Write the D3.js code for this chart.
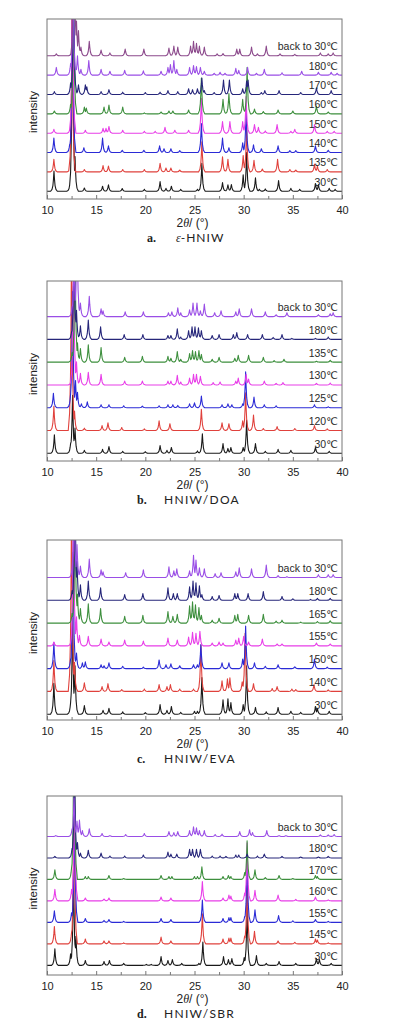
<!DOCTYPE html>
<html>
<head>
<meta charset="utf-8">
<script src="https://cdn.jsdelivr.net/npm/d3@7"></script>
<style>
	body { margin: 0; background: #fff; }
	svg { display: block; }
	text { font-family: "Liberation Sans", Arial, sans-serif; }
</style>
</head>
<body>
<svg id="chart" width="397" height="1035"></svg>
<script>
// ---- data: peaks, [2theta, height in a.u.] ----
const xTicks = [10, 15, 20, 25, 30, 35, 40];
const xMinorTicks = [12.5, 17.5, 22.5, 27.5, 32.5, 37.5];

const captionsLetter = ['a.', 'b.', 'c.', 'd.'];
const captionsName = ['ε-HNIW', 'HNIW/DOA', 'HNIW/EVA', 'HNIW/SBR'];

const labelsA = ['30℃', '135℃', '140℃', '150℃', '160℃', '170℃', '180℃', 'back to 30℃'];
const labelsB = ['30℃', '120℃', '125℃', '130℃', '135℃', '180℃', 'back to 30℃'];
const labelsC = ['30℃', '140℃', '150℃', '155℃', '165℃', '180℃', 'back to 30℃'];
const labelsD = ['30℃', '145℃', '155℃', '160℃', '170℃', '180℃', 'back to 30℃'];

const peaksA = [
	[[10.71, 1.05], [12.35, 0.5], [12.6, 11], [12.85, 1.8], [13.8, 0.17], [15.65, 0.26], [16.25, 0.33], [17.65, 0.14], [19.9, 0.1], [21.5, 0.5], [22.1, 0.15], [22.65, 0.26], [23.6, 0.1], [25.3, 0.1], [25.75, 1.45], [27.85, 0.45], [28.4, 0.33], [28.75, 0.35], [29.95, 0.85], [30.3, 2.0], [31.2, 0.7], [31.6, 0.1], [32.2, 0.12], [33.55, 0.55], [34.8, 0.15], [35.7, 0.1], [37.3, 0.4], [37.6, 0.35], [38.7, 0.15], [39.3, 0.1]],
	[[10.7, 0.65], [12.4, 0.5], [12.55, 9], [13.8, 0.12], [15.7, 0.33], [16.25, 0.3], [17.7, 0.12], [19.9, 0.12], [21.5, 0.45], [22.1, 0.2], [22.6, 0.2], [23.5, 0.1], [25.75, 1.55], [27.85, 0.78], [28.4, 0.65], [29.95, 0.85], [30.3, 2.4], [31.05, 0.6], [31.9, 0.15], [33.45, 0.65], [34.7, 0.12], [35.3, 0.1], [37.2, 0.4], [37.5, 0.3], [38.5, 0.12]],
	[[10.7, 0.75], [12.3, 0.4], [12.6, 8], [13.75, 0.25], [15.65, 0.75], [16.25, 0.35], [17.65, 0.12], [19.85, 0.12], [21.45, 0.35], [21.9, 0.2], [22.6, 0.2], [23.5, 0.1], [25.7, 1.5], [27.85, 0.75], [28.5, 0.25], [29.9, 0.5], [30.25, 2.2], [31.0, 0.4], [31.8, 0.2], [33.5, 0.35], [34.7, 0.1], [35.3, 0.1], [37.3, 0.35], [38.6, 0.12]],
	[[10.7, 0.2], [12.4, 0.5], [12.6, 8], [13.9, 0.15], [15.7, 0.25], [16.0, 0.25], [16.3, 0.35], [17.7, 0.15], [19.9, 0.1], [21.0, 0.1], [22.0, 0.3], [23.0, 0.15], [24.4, 0.15], [25.7, 1.8], [27.85, 0.6], [28.6, 0.6], [29.9, 0.6], [30.25, 1.9], [31.1, 0.45], [31.5, 0.3], [32.2, 0.12], [33.4, 0.45], [34.8, 0.1], [35.2, 0.2], [37.2, 0.45], [38.5, 0.1], [39.2, 0.1]],
	[[10.75, 0.15], [12.4, 0.5], [12.7, 6], [13.8, 0.35], [14.0, 0.3], [15.8, 0.35], [16.3, 0.45], [17.7, 0.35], [19.9, 0.05], [21.6, 0.1], [22.4, 0.15], [22.8, 0.15], [24.4, 0.2], [25.7, 1.85], [27.9, 0.75], [28.5, 1.05], [29.9, 0.75], [30.35, 2.4], [31.1, 0.25], [32.0, 0.12], [33.5, 0.2], [35.0, 0.15], [37.4, 0.4], [38.6, 0.1]],
	[[10.75, 0.15], [12.4, 0.6], [12.7, 6], [13.2, 0.5], [13.9, 0.5], [14.05, 0.4], [15.5, 0.15], [16.3, 0.25], [17.7, 0.12], [20.0, 0.1], [21.5, 0.12], [22.3, 0.2], [23.3, 0.15], [24.4, 0.3], [24.8, 0.25], [25.3, 0.3], [25.75, 0.85], [26.0, 0.2], [27.0, 0.1], [27.95, 0.75], [28.55, 0.75], [29.9, 0.3], [30.3, 0.7], [30.45, 0.75], [31.8, 0.1], [32.15, 0.2], [33.6, 0.2], [35.8, 0.1], [37.4, 0.35], [38.9, 0.2]],
	[[10.95, 0.4], [12.4, 0.6], [12.65, 5], [13.1, 1.0], [13.45, 0.3], [14.25, 0.75], [15.5, 0.3], [16.4, 0.2], [17.9, 0.25], [19.8, 0.22], [21.6, 0.2], [22.3, 0.4], [22.55, 0.55], [22.9, 0.75], [23.2, 0.3], [24.5, 0.4], [24.9, 0.5], [25.2, 0.45], [25.6, 0.4], [26.0, 0.2], [27.0, 0.1], [27.6, 0.15], [28.1, 0.1], [29.2, 0.35], [29.5, 0.25], [30.4, 0.4], [31.3, 0.1], [32.1, 0.3], [33.9, 0.12], [35.9, 0.2], [37.6, 0.15], [38.9, 0.15], [39.5, 0.1]],
	[[10.95, 0.1], [12.55, 0.4], [12.75, 8], [13.0, 1.8], [13.2, 1.3], [13.45, 0.45], [14.3, 0.75], [15.5, 0.3], [16.4, 0.15], [17.95, 0.35], [19.85, 0.35], [22.4, 0.4], [22.9, 0.5], [23.3, 0.45], [24.6, 0.5], [24.9, 0.75], [25.2, 0.65], [25.5, 0.5], [26.0, 0.45], [27.3, 0.1], [27.9, 0.12], [29.3, 0.35], [29.6, 0.35], [30.8, 0.45], [31.4, 0.1], [32.3, 0.5], [33.7, 0.1], [35.2, 0.08], [37.8, 0.15], [38.6, 0.1], [39.1, 0.15]]
];

const peaksB = [
	[[10.75, 0.95], [12.4, 0.5], [12.6, 3], [12.85, 1.3], [13.8, 0.15], [15.65, 0.2], [16.3, 0.35], [17.7, 0.1], [20.0, 0.08], [21.5, 0.4], [22.2, 0.15], [22.65, 0.3], [25.3, 0.12], [25.8, 1.0], [27.9, 0.5], [28.4, 0.25], [28.7, 0.3], [29.95, 0.3], [30.3, 1.7], [31.2, 0.5], [32.2, 0.1], [33.5, 0.2], [34.8, 0.15], [37.3, 0.3], [38.7, 0.1]],
	[[10.7, 1.25], [12.5, 10], [12.8, 1.0], [13.8, 0.12], [15.6, 0.25], [16.2, 0.4], [17.6, 0.15], [19.9, 0.08], [21.4, 0.5], [22.5, 0.35], [25.7, 1.1], [27.8, 0.4], [28.5, 0.35], [29.9, 0.5], [30.2, 1.95], [31.0, 0.8], [32.0, 0.1], [33.4, 0.2], [35.2, 0.1], [37.2, 0.25], [38.5, 0.08]],
	[[10.65, 0.75], [12.4, 0.7], [12.6, 6], [12.9, 1.4], [13.1, 0.8], [13.5, 0.2], [14.1, 0.3], [15.5, 0.15], [16.3, 0.15], [17.8, 0.1], [19.7, 0.08], [21.4, 0.1], [22.3, 0.15], [22.8, 0.15], [23.3, 0.12], [24.5, 0.2], [25.0, 0.25], [25.7, 0.6], [27.8, 0.15], [28.4, 0.2], [28.8, 0.15], [29.9, 0.2], [30.2, 1.85], [31.05, 0.55], [32.1, 0.15], [33.3, 0.1], [37.2, 0.15], [38.6, 0.05]],
	[[12.5, 0.4], [12.7, 7], [13.0, 1.2], [13.4, 0.6], [14.2, 0.65], [15.5, 0.55], [17.9, 0.2], [19.7, 0.2], [22.3, 0.2], [22.6, 0.2], [23.25, 0.5], [23.6, 0.15], [24.5, 0.35], [24.9, 0.55], [25.2, 0.55], [25.6, 0.45], [26.9, 0.12], [27.6, 0.15], [29.2, 0.2], [29.45, 0.35], [30.25, 0.55], [30.5, 0.3], [32.1, 0.2], [33.3, 0.08], [34.0, 0.12], [37.4, 0.08], [38.8, 0.1]],
	[[12.55, 0.5], [12.85, 6], [13.1, 1.0], [13.4, 0.7], [14.2, 0.9], [15.5, 0.75], [17.9, 0.25], [19.7, 0.3], [22.3, 0.3], [22.6, 0.2], [23.25, 0.55], [23.6, 0.15], [24.5, 0.45], [24.8, 0.6], [25.1, 0.55], [25.45, 0.6], [25.7, 0.4], [26.8, 0.15], [27.5, 0.25], [29.1, 0.2], [29.45, 0.35], [30.5, 0.35], [32.0, 0.25], [33.1, 0.08], [34.1, 0.15], [37.4, 0.05], [38.8, 0.1]],
	[[12.5, 0.4], [12.75, 5], [13.0, 1.5], [13.4, 0.7], [14.2, 1.0], [15.45, 0.65], [17.85, 0.25], [19.75, 0.25], [22.3, 0.2], [22.6, 0.2], [23.25, 0.55], [23.6, 0.12], [24.4, 0.45], [24.75, 0.65], [25.05, 0.65], [25.4, 0.6], [25.7, 0.45], [26.8, 0.2], [27.5, 0.25], [28.95, 0.25], [29.3, 0.35], [30.4, 0.25], [31.9, 0.25], [33.0, 0.1], [33.9, 0.25], [34.9, 0.05], [37.3, 0.05], [38.6, 0.12]],
	[[12.55, 0.5], [12.75, 3], [13.05, 5], [13.4, 0.7], [14.3, 1.05], [15.5, 0.4], [15.7, 0.3], [17.95, 0.25], [19.8, 0.25], [22.35, 0.2], [22.7, 0.25], [23.3, 0.45], [23.6, 0.2], [24.5, 0.35], [24.85, 0.7], [25.25, 0.7], [25.6, 0.3], [26.0, 0.65], [27.05, 0.2], [27.7, 0.3], [29.2, 0.25], [29.55, 0.4], [30.8, 0.4], [32.2, 0.25], [33.3, 0.1], [34.4, 0.2], [37.6, 0.1], [38.8, 0.15], [39.1, 0.2]]
];

const peaksC = [
	[[10.7, 1.6], [12.4, 0.6], [12.6, 5], [12.85, 2.5], [13.8, 0.45], [15.7, 0.2], [16.3, 0.3], [17.7, 0.12], [20.0, 0.08], [21.5, 0.5], [22.2, 0.2], [22.65, 0.4], [23.6, 0.1], [25.0, 0.15], [25.3, 0.15], [25.75, 1.9], [27.9, 0.75], [28.4, 0.8], [28.7, 0.6], [29.95, 0.5], [30.3, 2.5], [31.2, 0.35], [32.3, 0.12], [33.5, 0.35], [34.8, 0.15], [35.8, 0.1], [37.3, 0.4], [37.5, 0.3], [38.7, 0.15]],
	[[10.7, 1.6], [12.5, 10], [12.8, 1.5], [13.8, 0.45], [15.6, 0.25], [16.2, 0.4], [17.6, 0.1], [19.9, 0.12], [21.4, 0.35], [22.2, 0.25], [22.55, 0.35], [23.5, 0.12], [24.9, 0.12], [25.65, 2.4], [27.8, 0.55], [28.35, 0.65], [28.6, 0.7], [29.85, 0.5], [30.15, 3], [31.0, 0.4], [32.9, 0.15], [33.4, 0.25], [34.9, 0.12], [35.3, 0.1], [37.15, 0.35], [38.6, 0.08]],
	[[10.7, 1.35], [12.4, 0.5], [12.65, 6], [13.0, 0.8], [13.6, 0.3], [13.9, 0.35], [15.5, 0.2], [15.8, 0.15], [16.3, 0.3], [17.7, 0.12], [19.8, 0.08], [21.4, 0.45], [22.1, 0.2], [22.6, 0.25], [23.5, 0.15], [24.9, 0.2], [25.3, 0.2], [25.65, 1.25], [27.8, 0.3], [28.5, 0.3], [29.9, 0.5], [30.2, 2.2], [31.1, 0.3], [32.2, 0.12], [33.5, 0.2], [35.2, 0.1], [37.2, 0.5], [38.5, 0.08]],
	[[10.7, 0.2], [12.5, 0.5], [12.7, 7], [13.0, 1.5], [13.3, 0.55], [14.2, 0.5], [15.5, 0.35], [16.3, 0.2], [17.9, 0.3], [19.8, 0.25], [22.3, 0.4], [23.25, 0.3], [24.4, 0.45], [24.8, 0.7], [25.15, 0.65], [25.55, 0.75], [26.8, 0.15], [27.5, 0.2], [27.9, 0.15], [29.2, 0.3], [29.5, 0.4], [30.0, 0.5], [30.5, 0.2], [31.9, 0.35], [33.4, 0.1], [33.9, 0.1], [37.4, 0.15], [38.8, 0.1]],
	[[12.55, 0.5], [12.85, 6], [13.1, 1.5], [13.4, 0.75], [14.2, 1.0], [15.45, 0.75], [17.9, 0.35], [19.75, 0.4], [22.3, 0.6], [22.8, 0.35], [23.25, 0.45], [24.5, 0.9], [24.8, 1.1], [25.1, 0.95], [25.45, 0.8], [25.7, 0.4], [26.8, 0.15], [27.5, 0.25], [29.1, 0.4], [29.4, 0.45], [30.5, 0.4], [32.0, 0.45], [33.3, 0.1], [33.9, 0.15], [35.8, 0.05], [37.5, 0.08], [38.8, 0.12]],
	[[12.55, 0.5], [12.85, 6], [13.05, 2.0], [13.4, 0.8], [14.2, 1.0], [15.45, 0.65], [17.9, 0.3], [19.75, 0.35], [22.3, 0.65], [22.85, 0.35], [23.25, 0.35], [24.5, 0.7], [24.85, 1.0], [25.15, 0.9], [25.5, 0.75], [25.75, 0.3], [26.8, 0.2], [27.5, 0.25], [29.1, 0.35], [29.4, 0.35], [30.45, 0.35], [32.0, 0.45], [33.9, 0.2], [35.0, 0.08], [36.8, 0.05], [37.5, 0.1], [38.8, 0.1]],
	[[12.55, 0.5], [12.75, 5], [13.05, 1.7], [13.4, 0.6], [14.3, 0.95], [15.5, 0.4], [15.7, 0.3], [18.0, 0.25], [19.8, 0.4], [22.4, 0.55], [22.9, 0.35], [23.2, 0.45], [24.5, 0.35], [24.9, 1.15], [25.15, 0.9], [25.5, 0.5], [26.0, 0.45], [27.1, 0.2], [27.7, 0.25], [29.2, 0.3], [29.55, 0.5], [30.8, 0.45], [32.3, 0.65], [33.5, 0.1], [34.4, 0.05], [37.6, 0.15], [38.6, 0.15], [39.1, 0.15]]
];

const peaksD = [
	[[10.8, 0.85], [12.4, 0.6], [12.7, 5], [12.95, 1.5], [13.9, 0.25], [15.8, 0.2], [16.35, 0.25], [17.8, 0.1], [20.1, 0.05], [20.6, 0.05], [21.6, 0.45], [22.3, 0.25], [22.75, 0.3], [23.7, 0.1], [25.45, 0.1], [25.85, 1.2], [27.95, 0.45], [28.45, 0.3], [28.8, 0.35], [30.05, 0.4], [30.35, 3.0], [31.3, 0.5], [32.3, 0.1], [33.6, 0.2], [35.3, 0.1], [37.4, 0.35], [37.7, 0.3], [38.9, 0.1]],
	[[10.75, 0.9], [12.5, 0.6], [12.75, 8], [13.9, 0.25], [15.8, 0.15], [16.3, 0.15], [17.8, 0.05], [21.6, 0.35], [22.6, 0.15], [25.8, 1.55], [27.9, 0.25], [28.5, 0.3], [28.7, 0.3], [30.1, 0.4], [30.35, 3.5], [31.1, 0.65], [33.5, 0.15], [35.2, 0.08], [37.3, 0.25], [37.5, 0.2], [38.6, 0.05]],
	[[10.75, 0.6], [12.5, 0.5], [12.8, 6], [13.9, 0.2], [15.8, 0.1], [16.3, 0.15], [17.8, 0.05], [21.6, 0.2], [22.6, 0.15], [25.8, 1.15], [27.9, 0.2], [28.5, 0.25], [28.7, 0.25], [30.1, 0.3], [30.35, 3.5], [31.15, 0.65], [33.55, 0.35], [35.0, 0.08], [37.3, 0.15], [38.6, 0.05]],
	[[10.8, 0.6], [12.5, 0.6], [12.8, 6], [13.9, 0.15], [15.8, 0.1], [16.3, 0.15], [21.6, 0.2], [22.6, 0.15], [25.8, 1.0], [27.9, 0.15], [28.5, 0.3], [28.7, 0.25], [30.1, 0.4], [30.35, 3.0], [31.15, 0.55], [33.5, 0.3], [35.3, 0.08], [37.3, 0.2], [38.6, 0.05]],
	[[10.8, 0.5], [12.5, 0.6], [12.75, 9], [13.9, 0.15], [14.2, 0.15], [16.3, 0.2], [17.8, 0.05], [21.6, 0.2], [22.4, 0.15], [22.7, 0.15], [25.0, 0.15], [25.3, 0.15], [25.75, 0.65], [27.9, 0.15], [28.45, 0.2], [28.7, 0.15], [30.1, 0.35], [30.35, 2.0], [31.15, 0.5], [32.2, 0.1], [33.6, 0.2], [35.0, 0.05], [37.3, 0.2], [37.5, 0.15]],
	[[10.8, 0.08], [12.55, 0.5], [12.8, 5], [13.1, 0.8], [13.4, 0.25], [14.2, 0.4], [15.5, 0.25], [16.4, 0.1], [17.9, 0.1], [19.8, 0.15], [22.3, 0.3], [22.6, 0.2], [23.2, 0.2], [24.5, 0.45], [24.8, 0.45], [25.2, 0.45], [25.6, 0.45], [26.8, 0.1], [27.6, 0.1], [28.2, 0.08], [29.2, 0.15], [29.5, 0.15], [30.35, 0.2], [31.4, 0.1], [32.1, 0.2], [33.9, 0.08], [35.8, 0.05], [37.6, 0.05], [38.6, 0.08]],
	[[10.9, 0.05], [12.55, 0.4], [12.75, 2], [13.05, 0.8], [13.3, 0.85], [13.6, 0.3], [14.3, 0.4], [15.6, 0.15], [16.4, 0.05], [18.0, 0.1], [19.9, 0.15], [22.4, 0.25], [22.9, 0.2], [23.3, 0.25], [24.5, 0.3], [24.9, 0.5], [25.2, 0.45], [25.5, 0.3], [26.0, 0.3], [27.1, 0.1], [27.8, 0.12], [29.6, 0.25], [30.6, 0.35], [30.9, 0.2], [32.35, 0.3], [33.6, 0.05], [34.3, 0.05], [37.8, 0.08], [38.6, 0.08], [39.2, 0.1]]
];

// ---- styles / layout ----
const black = '#1a1a1a', red = '#e0413c', blue = '#2b2bd6', magenta = '#e83ee8',
	green = '#3d8f3d', navy = '#26267a', violet = '#9a4ee6', mauve = '#8c4a8c';

const panels = [
	{ labels: labelsA, peaks: peaksA, colors: [black, red, blue, magenta, green, navy, violet, mauve], top: 19, bottom: 199, yMin: -0.4, step: 1.0 },
	{ labels: labelsB, peaks: peaksB, colors: [black, red, blue, magenta, green, navy, violet], top: 281, bottom: 461, yMin: -0.4, step: 1.177 },
	{ labels: labelsC, peaks: peaksC, colors: [black, red, blue, magenta, green, navy, violet], top: 540, bottom: 720, yMin: -0.3, step: 1.177 },
	{ labels: labelsD, peaks: peaksD, colors: [black, red, blue, magenta, green, navy, violet], top: 796, bottom: 975, yMin: -0.5, step: 1.11 }
];

const plotLeft = 47;
const plotRight = 342;
const pxPerUnit = 19.35;
// peak profile: [offset in degrees, fraction of peak height]
const peakShape = [[0, 1], [0.05, 0.6], [0.11, 0.28], [0.2, 0.09], [0.34, 0]];

const svg = d3.select('#chart');
const x = d3.scaleLinear().domain([10, 40]).range([plotLeft, plotRight]);

function profileAt(peaks, t) {
	let y = 0;
	for (const [pos, h] of peaks) {
		let d = Math.abs(t - pos);
		for (let k = 1; k < peakShape.length; k++) {
			if (d <= peakShape[k][0]) {
				let [d0, f0] = peakShape[k - 1];
				let [d1, f1] = peakShape[k];
				y = Math.max(y, h * (f0 + (f1 - f0) * (d - d0) / (d1 - d0)));
				break;
			}
		}
	}
	return y;
}

function tracePoints(peaks) {
	let xs = [10, 40];
	peaks.forEach(function(p) {
		peakShape.forEach(function(s) {
			xs.push(p[0] - s[0]);
			xs.push(p[0] + s[0]);
		});
	});
	xs = Array.from(new Set(xs)).filter(v => v >= 10 && v <= 40).sort((a, b) => a - b);
	return xs.map(v => [v, profileAt(peaks, v)]);
}

panels.forEach(function(panel, pi) {
	let g = svg.append('g');
	let yMax = panel.yMin + (panel.bottom - panel.top) / pxPerUnit;
	let y = d3.scaleLinear().domain([panel.yMin, yMax]).range([panel.bottom, panel.top]);
	let clipId = 'clip' + pi;

	g.append('clipPath').attr('id', clipId)
		.append('rect')
		.attr('x', plotLeft).attr('y', panel.top)
		.attr('width', plotRight - plotLeft).attr('height', panel.bottom - panel.top);

	let traces = g.append('g').attr('clip-path', 'url(#' + clipId + ')');

	panel.peaks.forEach(function(peaks, i) {
		let offset = i * panel.step;
		let line = d3.line()
			.x(d => x(d[0]))
			.y(d => y(d[1] + offset));

		traces.append('path')
			.attr('d', line(tracePoints(peaks)))
			.attr('fill', 'none')
			.attr('stroke', panel.colors[i])
			.attr('stroke-width', 1.1)
			.attr('stroke-linejoin', 'round');

		g.append('text')
			.attr('x', plotRight - 4)
			.attr('y', y(offset) - 5.5)
			.attr('text-anchor', 'end')
			.style('font-size', '10.5px')
			.style('font-family', '"Liberation Sans", "DejaVu Sans", sans-serif')
			.style('fill', '#2a2a2a')
			.text(panel.labels[i]);
	});

	// frame
	g.append('rect')
		.attr('x', plotLeft).attr('y', panel.top)
		.attr('width', plotRight - plotLeft).attr('height', panel.bottom - panel.top)
		.attr('fill', 'none')
		.attr('stroke', '#777')
		.attr('stroke-width', 1);

	// bottom axis, ticks pointing inwards
	let axis = g.append('g')
		.attr('transform', 'translate(0,' + panel.bottom + ')')
		.call(d3.axisBottom(x).tickValues(xTicks).tickSizeInner(-4).tickSizeOuter(0).tickPadding(7).tickFormat(d3.format('d')));
	axis.select('.domain').remove();
	axis.selectAll('line').attr('stroke', '#777');
	axis.selectAll('text')
		.style('font-size', '11px')
		.style('font-family', '"Liberation Sans", Arial, sans-serif')
		.attr('fill', '#222');

	let minor = g.append('g')
		.attr('transform', 'translate(0,' + panel.bottom + ')')
		.call(d3.axisBottom(x).tickValues(xMinorTicks).tickSizeInner(-3).tickSizeOuter(0).tickFormat(''));
	minor.select('.domain').remove();
	minor.selectAll('line').attr('stroke', '#777');

	// axis titles
	let xTitle = g.append('text')
		.attr('x', (plotLeft + plotRight) / 2 - 2)
		.attr('y', panel.bottom + 28)
		.attr('text-anchor', 'middle')
		.style('font-size', '12px')
		.style('fill', '#222');
	xTitle.append('tspan').text('2');
	xTitle.append('tspan').style('font-style', 'italic').style('font-family', '"Liberation Serif", serif').text('θ');
	xTitle.append('tspan').text('/ (°)');

	g.append('text')
		.attr('transform', 'translate(37,' + ((panel.top + panel.bottom) / 2 + 3) + ') rotate(-90)')
		.attr('text-anchor', 'middle')
		.style('font-size', '11.5px')
		.style('fill', '#222')
		.text('intensity');

	// caption
	let caption = g.append('text')
		.attr('y', panel.bottom + 43)
		.style('font-size', '12px')
		.style('fill', '#222');
	caption.append('tspan')
		.attr('x', pi == 0 ? 147 : 137)
		.style('font-family', '"Liberation Serif", serif')
		.style('font-weight', 'bold')
		.text(captionsLetter[pi]);
	let nameX = pi == 0 ? 176 : 164;
	if (pi == 0) {
		caption.append('tspan')
			.attr('x', nameX)
			.style('font-family', '"Liberation Serif", serif')
			.style('font-style', 'italic')
			.text('ε');
		caption.append('tspan')
			.style('font-family', 'Lato, "Open Sans", sans-serif')
			.style('letter-spacing', '1px')
			.text('-HNIW');
	} else {
		caption.append('tspan')
			.attr('x', nameX)
			.style('font-family', 'Lato, "Open Sans", sans-serif')
			.style('letter-spacing', '1.3px')
			.text(captionsName[pi]);
	}
});
</script>
</body>
</html>
